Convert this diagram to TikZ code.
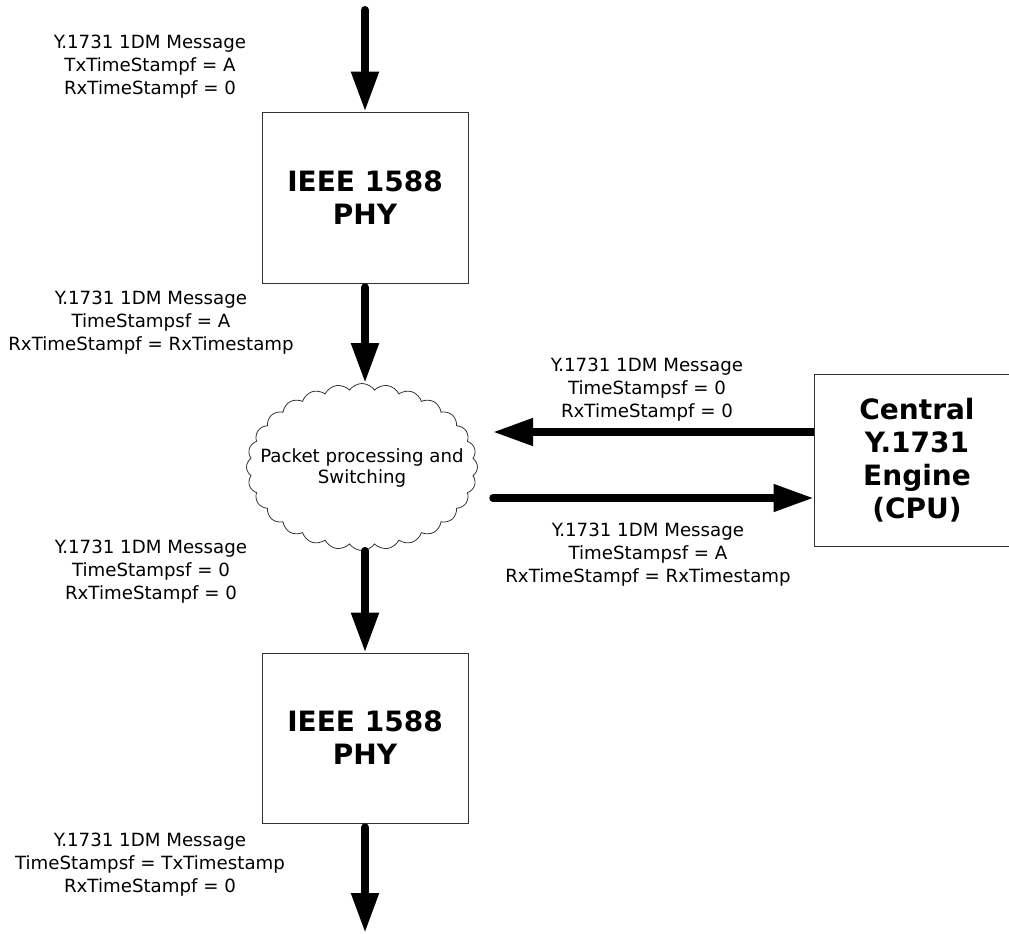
\documentclass[tikz,border=0pt]{standalone}
\usepackage{fontspec}
\setmainfont{DejaVu Sans}
\usetikzlibrary{arrows.meta,shapes.symbols}

\tikzset{
  phybox/.style={draw=black!80, line width=0.8pt, minimum width=206pt, minimum height=171pt,
    align=center, font=\bfseries\fontsize{28}{33}\selectfont},
  msg/.style={align=center, inner sep=0pt, font=\fontsize{18.2}{23}\selectfont},
  flow/.style={line width=8pt, line cap=round, -{Triangle[width=26pt,length=40pt]}},
}

\begin{document}
\begin{tikzpicture}[x=1pt,y=-1pt]
	\useasboundingbox (0,0) rectangle (1009,934);
	% blocks
	\node[phybox] (phyA) at (365,197.5) {IEEE 1588\\PHY};
	\node[phybox, minimum height=170pt] (phyB) at (365,738) {IEEE 1588\\PHY};
	\node[phybox, minimum height=172pt] (cpu) at (917,460) {Central\\Y.1731\\Engine\\(CPU)};
	\node[cloud, cloud ignores aspect, draw=black!80, line width=0.8pt, cloud puffs=28, cloud puff arc=110,
		minimum width=231pt, minimum height=167pt, inner sep=0pt] (sw) at (362,467) {};
	\node[msg, font=\fontsize{18.2}{21}\selectfont] (swtxt) at ([yshift=-1pt]sw.center) {Packet processing and\\Switching};
	% free ends
	\coordinate (inA) at (365,10);
	\coordinate (outB) at (365,933);
	\coordinate (toSw) at (493,432);
	\coordinate (fromSw) at (493,498);
	% messages
	\draw[flow] (inA) -- (phyA.north);
	\draw[flow] ([yshift=-4pt]phyA.south) -- (phyA.south |- sw.north);
	\draw[flow] (phyB.north |- sw.south) -- (phyB.north);
	\draw[flow] ([yshift=-4pt]phyB.south) -- (outB);
	\draw[flow, line width=7.5pt, line cap=butt] ([yshift=28pt]cpu.west) -- (toSw);
	\draw[flow, line width=7.5pt] (fromSw) -- ([yshift=-38pt]cpu.west);
	% labels
	\node[msg] (lblA) at (150,67) {Y.1731 1DM Message\\TxTimeStampf = A\\RxTimeStampf = 0};
	\node[msg] (lblB) at (151,323) {Y.1731 1DM Message\\TimeStampsf = A\\RxTimeStampf = RxTimestamp};
	\node[msg] (lblC) at (151,572) {Y.1731 1DM Message\\TimeStampsf = 0\\RxTimeStampf = 0};
	\node[msg] (lblD) at (150,865) {Y.1731 1DM Message\\TimeStampsf = TxTimestamp\\RxTimeStampf = 0};
	\node[msg] (lblE) at (647,390) {Y.1731 1DM Message\\TimeStampsf = 0\\RxTimeStampf = 0};
	\node[msg] (lblF) at (648,555) {Y.1731 1DM Message\\TimeStampsf = A\\RxTimeStampf = RxTimestamp};
\end{tikzpicture}
\end{document}
